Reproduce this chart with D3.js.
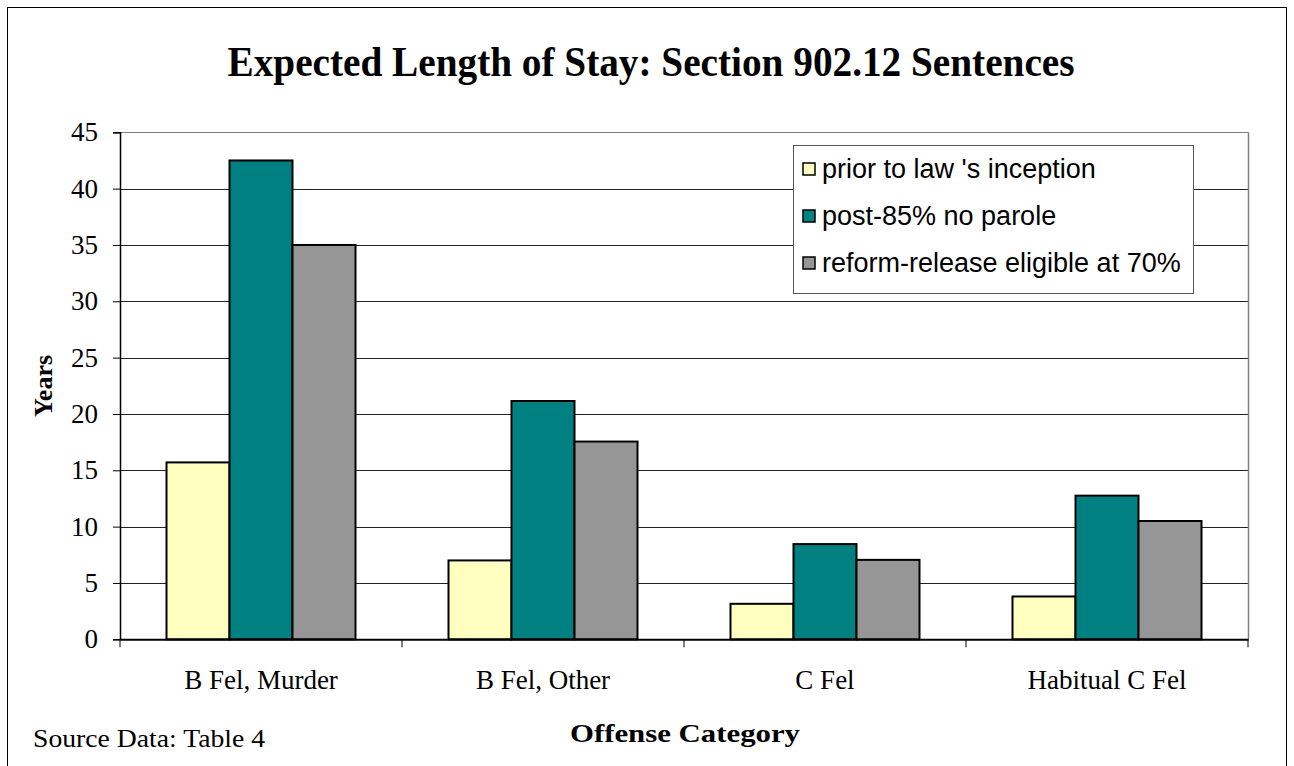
<!DOCTYPE html>
<html>
<head>
<meta charset="utf-8">
<script src="https://cdn.jsdelivr.net/npm/d3@7"></script>
<style>
  body { margin: 0; background: #fff; }
  svg { display: block; }
</style>
</head>
<body>
<div id="chart"></div>
<script>
const categories = ["B Fel, Murder", "B Fel, Other", "C Fel", "Habitual C Fel"];
const seriesNames = ["prior to law 's inception", "post-85% no parole", "reform-release eligible at 70%"];
const priorValues = [15.7, 7.0, 3.15, 3.8];
const postValues = [42.5, 21.15, 8.45, 12.75];
const reformValues = [35.0, 17.55, 7.05, 10.5];
const yTicks = [0, 5, 10, 15, 20, 25, 30, 35, 40, 45];
const colors = ["#ffffc0", "#008080", "#969696"];

const W = 1294, H = 766;
const plot = { left: 120, right: 1248, top: 132.3, bottom: 639.3 };
const serif = "'Liberation Serif', 'Times New Roman', serif";

const svg = d3.select("#chart").append("svg")
  .attr("width", W).attr("height", H)
  .style("font-family", serif);

// outer frame
svg.append("rect")
  .attr("x", 7.5).attr("y", 7.5).attr("width", 1279).attr("height", 770)
  .attr("fill", "none").attr("stroke", "#000").attr("stroke-width", 1);

const x0 = d3.scaleBand().domain(categories).range([plot.left, plot.right]);
const x1 = d3.scaleBand().domain(seriesNames).range([46.5, x0.bandwidth() - 46.5]);
const y = d3.scaleLinear().domain([0, 45]).range([plot.bottom, plot.top]);

// gridlines
svg.append("g").selectAll("line").data(yTicks.filter(d => d > 0)).enter().append("line")
  .attr("x1", plot.left).attr("x2", plot.right)
  .attr("y1", d => Math.round(y(d)) + 0.5).attr("y2", d => Math.round(y(d)) + 0.5)
  .attr("stroke", d => d === 45 ? "#808080" : "#222").attr("stroke-width", 1);

// right border of plot area
svg.append("line")
  .attr("x1", plot.right + 0.5).attr("x2", plot.right + 0.5)
  .attr("y1", plot.top).attr("y2", plot.bottom)
  .attr("stroke", "#808080").attr("stroke-width", 1.5);

// bars
const data = categories.map((c, i) => ({ cat: c, vals: [priorValues[i], postValues[i], reformValues[i]] }));
const groups = svg.append("g").selectAll("g").data(data).enter().append("g")
  .attr("transform", d => `translate(${x0(d.cat)},0)`);
groups.selectAll("rect").data(d => d.vals.map((v, j) => ({ v, j }))).enter().append("rect")
  .attr("x", d => x1(seriesNames[d.j]))
  .attr("width", x1.bandwidth())
  .attr("y", d => y(d.v))
  .attr("height", d => y(0) - y(d.v))
  .attr("fill", d => colors[d.j])
  .attr("stroke", "#000").attr("stroke-width", 2);

// y axis
const yAxis = d3.axisLeft(y).tickValues(yTicks).tickSize(7).tickPadding(15);
const yg = svg.append("g").attr("transform", `translate(${plot.left},0)`).call(yAxis);
yg.select(".domain").attr("stroke", "#000").attr("stroke-width", 1.5);
yg.selectAll(".tick line").attr("stroke", "#000");
yg.selectAll(".tick text").attr("font-size", 27).attr("font-family", serif).attr("fill", "#000");

// x axis
const xg = svg.append("g").attr("transform", `translate(0,${plot.bottom})`)
  .call(d3.axisBottom(x0).tickSize(0).tickFormat(""));
xg.select(".domain").attr("stroke", "#000").attr("stroke-width", 2);
const xTickPos = categories.map(c => x0(c)).concat([plot.right]);
xg.selectAll(".xt").data(xTickPos).enter().append("line")
  .attr("x1", d => d).attr("x2", d => d).attr("y1", 0).attr("y2", 8)
  .attr("stroke", "#000");
svg.append("g").selectAll("text").data(categories).enter().append("text")
  .attr("x", d => x0(d) + x0.bandwidth() / 2).attr("y", 689)
  .attr("text-anchor", "middle").attr("font-size", 27)
  .text(d => d);

// title
svg.append("text")
  .attr("x", 651).attr("y", 76).attr("text-anchor", "middle")
  .attr("font-size", 42).attr("font-weight", "bold")
  .attr("textLength", 847).attr("lengthAdjust", "spacingAndGlyphs")
  .text("Expected Length of Stay: Section 902.12 Sentences");

// axis titles
svg.append("text")
  .attr("transform", "translate(52,386) rotate(-90)")
  .attr("text-anchor", "middle").attr("font-size", 26).attr("font-weight", "bold")
  .text("Years");
svg.append("text")
  .attr("x", 685).attr("y", 742).attr("text-anchor", "middle")
  .attr("font-size", 26).attr("font-weight", "bold")
  .attr("textLength", 230).attr("lengthAdjust", "spacingAndGlyphs")
  .text("Offense Category");
svg.append("text")
  .attr("x", 33).attr("y", 747).attr("font-size", 26)
  .attr("textLength", 232).attr("lengthAdjust", "spacingAndGlyphs")
  .text("Source Data: Table 4");

// legend
const lg = svg.append("g").attr("transform", "translate(793,145)");
lg.append("rect").attr("x", 0.5).attr("y", 0.5).attr("width", 400).attr("height", 148)
  .attr("fill", "#fff").attr("stroke", "#555").attr("stroke-width", 1);
const items = lg.selectAll("g").data(seriesNames).enter().append("g")
  .attr("transform", (d, i) => `translate(0,${24 + i * 47})`);
items.append("rect").attr("x", 10).attr("y", -6).attr("width", 12).attr("height", 12)
  .attr("fill", (d, i) => colors[i]).attr("stroke", "#000").attr("stroke-width", 1.5);
items.append("text").attr("x", 29).attr("y", 9)
  .attr("font-family", "'Liberation Sans', Arial, sans-serif").attr("font-size", 27)
  .text(d => d);
</script>
</body>
</html>
